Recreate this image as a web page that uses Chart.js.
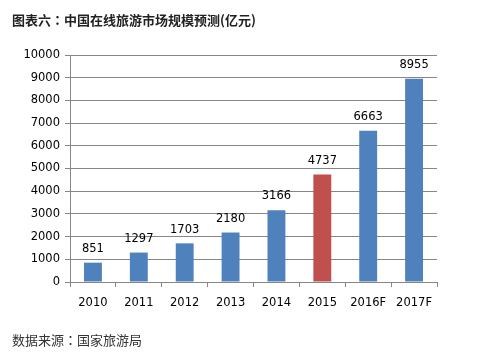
<!DOCTYPE html>
<html><head><meta charset="utf-8">
<script src="https://cdn.jsdelivr.net/npm/chart.js@4"></script>
<style>
html,body{margin:0;padding:0;background:#fff;}
#wrap{position:relative;width:477px;height:357px;overflow:hidden;background:#fff;}
#title{position:absolute;left:12px;top:11px;font:bold 13px "Noto Sans CJK SC",sans-serif;color:#222;white-space:nowrap;line-height:18px;}
#title .c{font-family:"Noto Sans CJK TC",sans-serif;}
#src{position:absolute;left:12px;top:331px;font:13px "Noto Sans CJK SC",sans-serif;color:#333;white-space:nowrap;line-height:18px;}
#src .c{font-family:"Noto Sans CJK TC",sans-serif;}
#c{position:absolute;left:0;top:0;}
</style></head>
<body><div id="wrap">
<canvas id="c" width="477" height="357"></canvas>
<div id="title">图表六<span class="c">：</span>中国在线旅游市场规模预测(亿元)</div>
<div id="src">数据来源<span class="c">：</span>国家旅游局</div>
</div>
<script>
const categories = ["2010","2011","2012","2013","2014","2015","2016F","2017F"];
const values = [851,1297,1703,2180,3166,4737,6663,8955];
const barColors = ["#4F81BD","#4F81BD","#4F81BD","#4F81BD","#4F81BD","#C0504D","#4F81BD","#4F81BD"];
const yMax = 10000, yStep = 1000;

const labelPlugin = {
  id:'vlabels',
  afterDatasetsDraw(chart){
    const ctx = chart.ctx;
    const meta = chart.getDatasetMeta(0);
    ctx.save();
    ctx.font = '11.5px "DejaVu Sans", sans-serif';
    ctx.fillStyle = '#000';
    ctx.textAlign = 'center';
    ctx.textBaseline = 'bottom';
    meta.data.forEach((bar,i)=>{
      ctx.fillText(String(values[i]), bar.x, bar.y - 8);
    });
    ctx.restore();
  }
};

new Chart(document.getElementById('c'),{
  type:'bar',
  data:{labels:categories,datasets:[{data:values,backgroundColor:barColors,borderWidth:0,barPercentage:0.39,categoryPercentage:1}]},
  options:{
    responsive:false,animation:false,
    layout:{padding:{top:55,right:40,left:0,bottom:0}},
    plugins:{legend:{display:false},tooltip:{enabled:false}},
    scales:{
      x:{
        offset:true,
        grid:{offset:true,drawOnChartArea:false,drawTicks:true,tickLength:5,color:'#868686'},
        border:{display:true,color:'#868686',width:1},
        ticks:{color:'#000',font:{family:'"DejaVu Sans", sans-serif',size:11.5},padding:9,maxRotation:0,autoSkip:false},
        afterFit(s){s.height=75;}
      },
      y:{
        min:0,max:yMax,
        grid:{color:'#868686',tickLength:5,drawTicks:true},
        border:{display:true,color:'#868686',width:1},
        ticks:{stepSize:yStep,color:'#000',font:{family:'"DejaVu Sans", sans-serif',size:11.5},padding:5,callback:(v)=>String(v)},
        afterFit(s){s.width=70;}
      }
    }
  },
  plugins:[labelPlugin]
});
</script></body></html>
